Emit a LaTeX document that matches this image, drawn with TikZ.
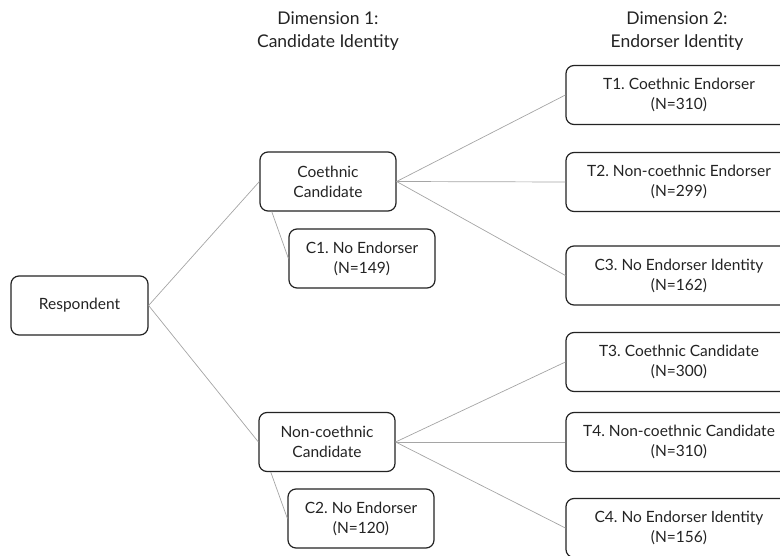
\documentclass[tikz,border=0pt]{standalone}
\usepackage{fontspec}
\setmainfont{Lato}
\frenchspacing
\usetikzlibrary{calc}
\definecolor{boxline}{RGB}{35,35,35}
\definecolor{linkgray}{RGB}{165,165,165}
\tikzset{
    box/.style={
        rectangle, rounded corners=8pt, minimum height=59pt,
        draw=boxline, line width=1.2pt, text=boxline,
        font=\fontsize{15.5}{20}\selectfont, align=center
    },
    rootbox/.style={box, minimum width=137pt},
    candbox/.style={box, minimum width=136pt},
    ctrlbox/.style={box, minimum width=146pt},
    treatbox/.style={box, minimum width=226pt},
    head/.style={font=\fontsize{17.5}{23}\selectfont, text=boxline, align=center},
    link/.style={draw=linkgray, line width=0.7pt},
}

\begin{document}
\begin{tikzpicture}[x=1pt, y=-1pt]
    \useasboundingbox (0,0) rectangle (780,556);

    % column headings
    \node[head] (dim1) at (328, 31) {Dimension 1:\\Candidate Identity};
    \node[head] (dim2) at (677, 31) {Dimension 2:\\Endorser Identity};

    \node[rootbox] (resp) at (79.5, 305.5) {Respondent};

    \node[candbox] (coeth) at (328, 181.5) {Coethnic\\Candidate};
    \node[candbox] (noncoeth) at (327, 442) {Non-coethnic\\Candidate};

    \node[ctrlbox] (c1) at (362, 258.5) {C1. No Endorser\\(N=149)};
    \node[ctrlbox] (c2) at (361, 518.5) {C2. No Endorser\\(N=120)};

    \node[treatbox] (t1) at (679, 95) {T1. Coethnic Endorser\\(N=310)};
    \node[treatbox] (t2) at (679, 182) {T2. Non-coethnic Endorser\\(N=299)};
    \node[treatbox] (c3) at (679, 275.5) {C3. No Endorser Identity\\(N=162)};
    \node[treatbox] (t3) at (679, 362) {T3. Coethnic Candidate\\(N=300)};
    \node[treatbox] (t4) at (679, 442) {T4. Non-coethnic Candidate\\(N=310)};
    \node[treatbox] (c4) at (679, 528) {C4. No Endorser Identity\\(N=156)};

    % first split
    \draw[link] (resp.east) -- (coeth.west);
    \draw[link] (resp.east) -- (noncoeth.west);

    % second split
    \draw[link] (coeth.east) -- (t1.west);
    \draw[link] (coeth.east) -- (t2.west);
    \draw[link] (coeth.east) -- (c3.west);
    \draw[link] (noncoeth.east) -- (t3.west);
    \draw[link] (noncoeth.east) -- (t4.west);
    \draw[link] (noncoeth.east) -- (c4.west);

    % pure controls
    \coordinate (c1root) at ($(coeth.south west)!0.09!(coeth.south east)$);
    \coordinate (c2root) at ($(noncoeth.south west)!0.09!(noncoeth.south east)$);
    \draw[link] (c1root) -- (c1.west);
    \draw[link] (c2root) -- (c2.west);
\end{tikzpicture}
\end{document}
